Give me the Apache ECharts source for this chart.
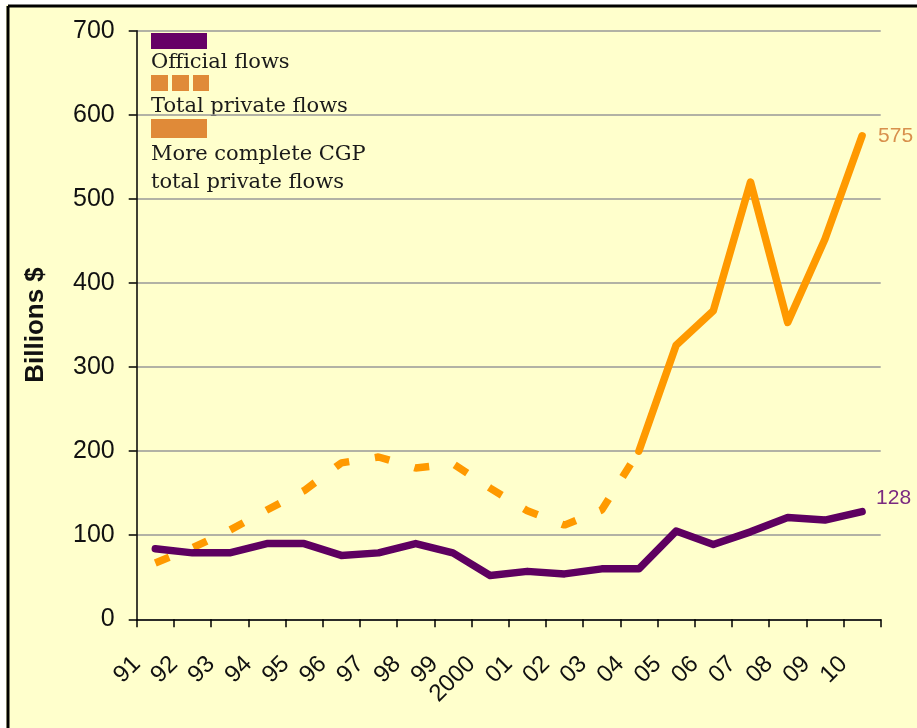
<!DOCTYPE html>
<html>
<head>
<meta charset="utf-8">
<script src="https://cdn.jsdelivr.net/npm/echarts@6/dist/echarts.min.js"></script>
<style>
html,body{margin:0;padding:0;background:#fff;}
#c{width:917px;height:728px;}
</style>
</head>
<body>
<div id="c"></div>
<script>
const years = ['91','92','93','94','95','96','97','98','99','2000','01','02','03','04','05','06','07','08','09','10'];
const officialFlows = [84,79,79,90,90,76,79,90,79,52,57,54,60,60,105,89,104,121,118,128];
const totalPrivateFlows = [67,85,106,130,153,186,193,180,185,156,129,112,130,200,null,null,null,null,null,null];
const cgpPrivateFlows = [null,null,null,null,null,null,null,null,null,null,null,null,null,200,326,367,520,353,452,575];
const yTicks = [0,100,200,300,400,500,600,700];

const chart = echarts.init(document.getElementById('c'), null, {renderer:'canvas'});
const labelYears = years.concat(['']);
const serifFont = '"DejaVu Serif","Liberation Serif",serif';
const sansFont = '"Liberation Sans",Arial,sans-serif';
const legendText = (t, y) => ({type:'text', left:151, top:y, style:{text:t, font:'21px ' + serifFont, fill:'#1a1a1a'}});

chart.setOption({
  backgroundColor:'#ffffcc',
  animation:false,
  grid:{left:136.7, right:36.3, top:30.7, bottom:108.7},
  xAxis:[{
    type:'category', data:years, boundaryGap:true,
    axisLine:{lineStyle:{color:'#000', width:1.5}},
    axisTick:{show:true, length:8, lineStyle:{color:'#000', width:1.5}},
    axisLabel:{show:false},
    splitLine:{show:false}
  },{
    type:'category', data:labelYears, boundaryGap:false, position:'bottom',
    axisLine:{show:false}, axisTick:{show:false},
    axisLabel:{rotate:45, interval:0, margin:41, fontSize:24, color:'#111', fontFamily:sansFont},
    splitLine:{show:false}
  }],
  yAxis:{
    type:'value', min:0, max:700, interval:100,
    name:'Billions $', nameLocation:'middle', nameGap:88, nameRotate:90,
    nameTextStyle:{fontSize:26, fontWeight:'bold', color:'#111', fontFamily:sansFont},
    axisLine:{show:true, lineStyle:{color:'#000', width:1.5}},
    axisTick:{show:true, length:8, lineStyle:{color:'#000', width:1.5}},
    axisLabel:{fontSize:25, color:'#111', margin:22, fontFamily:sansFont,
      formatter:(v)=> yTicks.includes(v) ? String(v) : ''},
    splitLine:{show:true, lineStyle:{color:'#999', width:1.5}}
  },
  series:[{
    name:'Official flows', type:'line', data:officialFlows, xAxisIndex:0,
    symbol:'none', lineStyle:{color:'#5e0060', width:7.5, cap:'round', join:'round'},
    itemStyle:{color:'#5e0060'},
    endLabel:{show:true, formatter:(p)=>String(p.value), offset:[6,-13], fontSize:21, color:'#7a2a80', fontFamily:sansFont},
    z:3
  },{
    name:'Total private flows', type:'line', data:totalPrivateFlows, xAxisIndex:0,
    symbol:'none', lineStyle:{color:'#ff9900', width:7.5, type:[15,26], cap:'butt'},
    itemStyle:{color:'#ff9900'}, z:2
  },{
    name:'More complete CGP total private flows', type:'line', data:cgpPrivateFlows, xAxisIndex:0,
    symbol:'none', lineStyle:{color:'#ff9900', width:7.5, cap:'round', join:'round'},
    itemStyle:{color:'#ff9900'},
    endLabel:{show:true, formatter:(p)=>String(p.value), offset:[8,0], fontSize:21, color:'#d8904c', fontFamily:sansFont},
    z:2
  }],
  graphic:[
    {type:'rect', shape:{x:0,y:0,width:917,height:5}, style:{fill:'#fff'}, silent:true, z:-1},
    {type:'rect', shape:{x:0,y:0,width:6,height:728}, style:{fill:'#fff'}, silent:true, z:-1},
    {type:'line', shape:{x1:8,y1:6,x2:917,y2:6}, style:{stroke:'#000', lineWidth:3}, z:10},
    {type:'line', shape:{x1:8,y1:6,x2:8,y2:728}, style:{stroke:'#000', lineWidth:3}, z:10},
    {type:'rect', shape:{x:151,y:33,width:56,height:16}, style:{fill:'#660066'}},
    legendText('Official flows', 52),
    {type:'rect', shape:{x:151,y:75,width:17,height:16}, style:{fill:'#e08a38'}},
    {type:'rect', shape:{x:172,y:75,width:17,height:16}, style:{fill:'#e08a38'}},
    {type:'rect', shape:{x:193,y:75,width:16,height:16}, style:{fill:'#e08a38'}},
    legendText('Total private flows', 96),
    {type:'rect', shape:{x:151,y:119,width:56,height:19}, style:{fill:'#e08a38'}},
    legendText('More complete CGP', 144),
    legendText('total private flows', 172)
  ]
});
</script>
</body>
</html>
